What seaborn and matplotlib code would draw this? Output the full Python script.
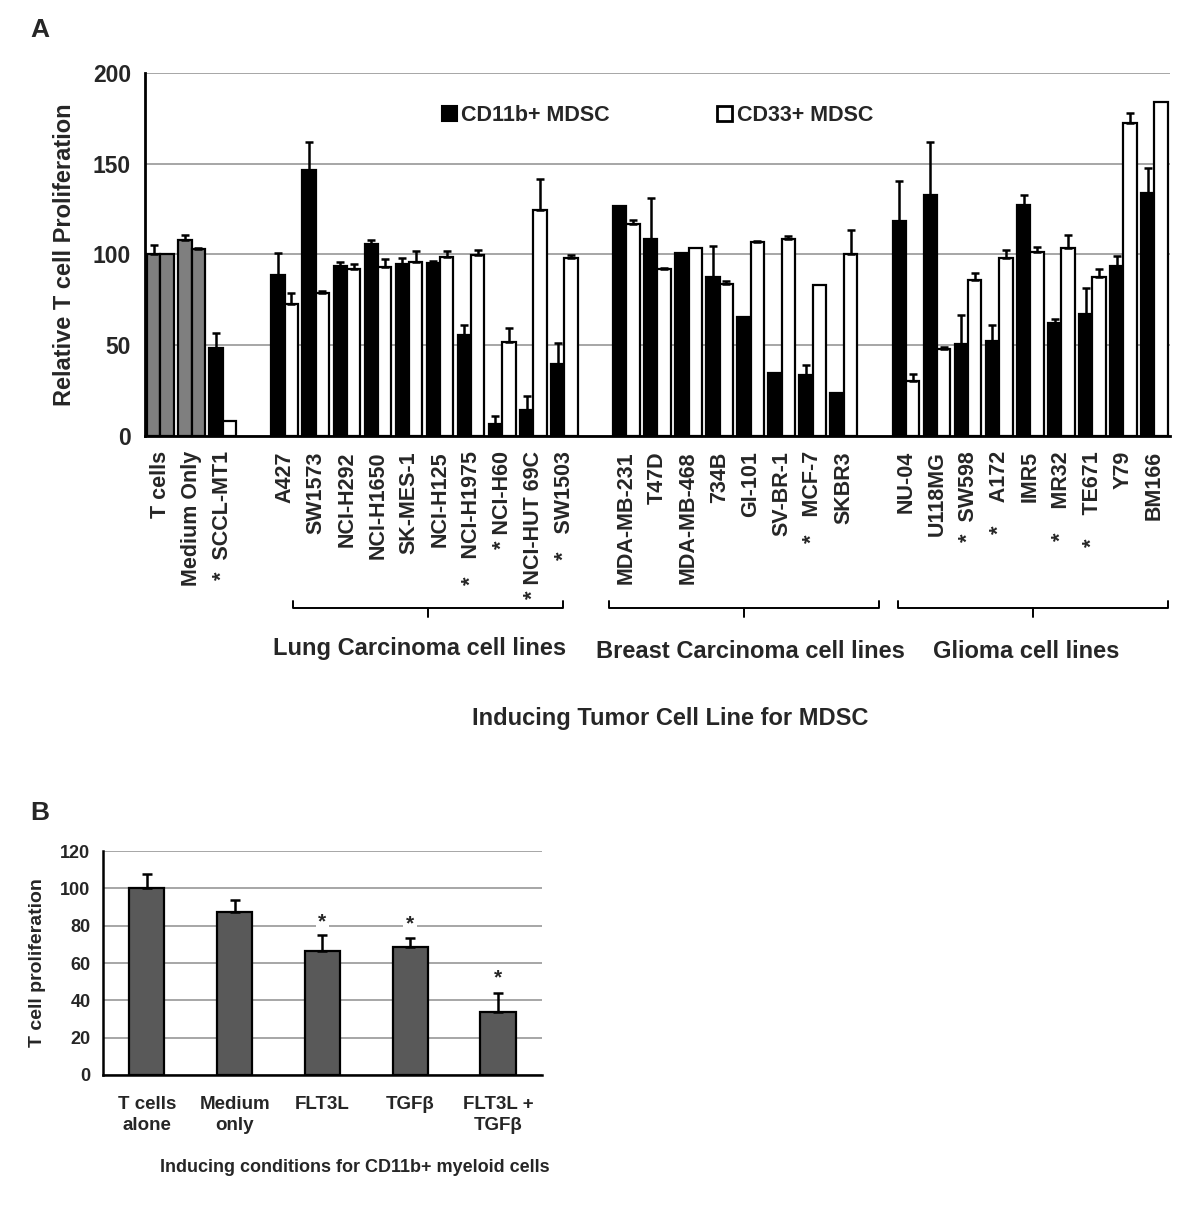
import numpy as np
import pandas as pd
import seaborn as sns
import matplotlib.pyplot as plt
from matplotlib.patches import Patch

sns.set_style('white')
plt.rcParams['font.family'] = ['Liberation Sans', 'DejaVu Sans']
plt.rcParams['font.weight'] = 'bold'

# ---------------- Panel A data ----------------
cell_lines = ['T cells', 'Medium Only', 'SCCL-MT1',
              'A427', 'SW1573', 'NCI-H292', 'NCI-H1650', 'SK-MES-1', 'NCI-H125',
              'NCI-H1975', 'NCI-H60', 'NCI-HUT 69C', 'SW1503',
              'MDA-MB-231', 'T47D', 'MDA-MB-468', '734B', 'GI-101', 'SV-BR-1',
              'MCF-7', 'SKBR3',
              'NU-04', 'U118MG', 'SW598', 'A172', 'IMR5', 'MR32', 'TE671', 'Y79', 'BM166']
cd11b = [100, 108, 48.6,
         88.7, 146.6, 93.7, 106, 94.6, 95.2, 55.8, 6.8, 14.2, 39.4,
         126.6, 108.5, 101, 87.8, 65.6, 34.8, 33.6, 23.7,
         118.7, 133, 50.5, 52.1, 127, 62.1, 67.1, 93.9, 133.8]
cd11b_err = [5, 2.5, 8.4,
             12.3, 15.1, 1.9, 2, 3.7, 1.3, 5.2, 4.2, 8, 11.8,
             np.nan, 22.7, np.nan, 16.6, np.nan, np.nan, 5.6, np.nan,
             22, 28.7, 16, 8.9, 5.7, 2.2, 14.2, 5.1, 14.1]
cd33 = [100, 103, 8.3,
        72.5, 79, 92, 93.3, 96, 98.5, 99.8, 51.8, 124.4, 98,
        116.8, 92, 103.7, 83.5, 106.7, 108.5, 83, 100.4,
        30.5, 47.9, 85.8, 98, 101.5, 103.3, 87.8, 172.3, 183.9]
cd33_err = [np.nan, 0.5, np.nan,
            6.5, 1, 2.8, 4.1, 5.8, 3.5, 2.8, 7.9, 17, 1.7,
            2.1, 0.8, np.nan, 2.1, 0.5, 1.5, np.nan, 13.3,
            3.7, 1.1, 4.2, 4.6, 2.8, 7.6, 4.2, 5.5, np.nan]
# significance stars shown under the tick label (number of spaces before name)
starred = {'SCCL-MT1': 2, 'NCI-H1975': 3, 'NCI-H60': 1, 'NCI-HUT 69C': 1,
           'SW1503': 3, 'MCF-7': 3, 'SW598': 2, 'A172': 4, 'MR32': 4, 'TE671': 4}

series = ['CD11b+ MDSC', 'CD33+ MDSC']
order_a = (cell_lines[:3] + ['_gap1'] + cell_lines[3:13] + ['_gap2']
           + cell_lines[13:21] + ['_gap3'] + cell_lines[21:])

groups = ['Lung Carcinoma cell lines', 'Breast Carcinoma cell lines', 'Glioma cell lines']

# ---------------- Panel B data ----------------
conditions = ['T cells\nalone', 'Medium\nonly', 'FLT3L', 'TGF\u03b2', 'FLT3L +\nTGF\u03b2']
prolif = [100, 87.5, 66.3, 68.8, 33.9]
prolif_err = [7.5, 6.3, 8.7, 4.5, 10.1]
star_b = {'FLT3L': 82, 'TGF\u03b2': 81, 'FLT3L +\nTGF\u03b2': 52}

df_a = pd.DataFrame({'line': cell_lines * 2,
                     'series': [series[0]] * len(cell_lines) + [series[1]] * len(cell_lines),
                     'value': cd11b + cd33})
err_map = {(n, series[0]): e for n, e in zip(cell_lines, cd11b_err)}
err_map.update({(n, series[1]): e for n, e in zip(cell_lines, cd33_err)})

fig = plt.figure(figsize=(12, 12.08), dpi=100)

# ================= Panel A =================
ax = fig.add_axes([0.1208, 0.6391, 0.8542, 0.3005])
sns.barplot(data=df_a, x='line', y='value', hue='series', order=order_a,
            hue_order=series, palette=['black', 'white'], saturation=1,
            edgecolor='black', linewidth=1.6, width=0.86, errorbar=None,
            legend=False, ax=ax)

xs, tops, errs = [], [], []
for p in ax.patches:
    cx = p.get_x() + p.get_width() / 2
    idx = int(round(cx))
    s = series[0] if cx < idx else series[1]
    name = order_a[idx]
    if idx in (0, 1):
        p.set_facecolor('#7f7f7f')
    e = err_map.get((name, s), np.nan)
    if not np.isnan(e):
        xs.append(cx)
        tops.append(p.get_height())
        errs.append(e)
ax.errorbar(xs, tops, yerr=[np.zeros(len(errs)), errs], fmt='none', ecolor='black',
            elinewidth=1.8, capsize=3, capthick=1.8, zorder=3)

ax.set_ylim(0, 200)
ax.set_xlim(-0.5, len(order_a) - 0.5)
ax.set_yticks([0, 50, 100, 150, 200])
ax.yaxis.grid(True, color='#a6a6a6', lw=1.4)
ax.set_axisbelow(True)
ticklabels = []
for n in order_a:
    if n.startswith('_gap'):
        ticklabels.append('')
    elif n in starred:
        ticklabels.append('*' + ' ' * starred[n] + n)
    else:
        ticklabels.append(n)
ax.set_xticks(range(len(order_a)))
ax.set_xticklabels(ticklabels, rotation=90, fontsize=15.5, fontweight='bold')
ax.set_xticks(np.arange(-0.5, len(order_a), 1), minor=True)
ax.tick_params(axis='x', which='major', length=0, pad=11)
ax.tick_params(axis='x', which='minor', length=6, width=1.6, direction='out', color='black')
ax.tick_params(axis='y', length=6, width=1.6, direction='out', color='black',
               labelsize=16.5, pad=4)
for t in ax.get_yticklabels():
    t.set_fontweight('bold')
ax.set_xlabel('')
ax.set_ylabel('Relative T cell Proliferation', fontsize=17, fontweight='bold', labelpad=12)
for sp in ['top', 'right']:
    ax.spines[sp].set_visible(False)
for sp in ['left', 'bottom']:
    ax.spines[sp].set_color('black')
    ax.spines[sp].set_linewidth(2)

handles = [Patch(facecolor='black', edgecolor='black', lw=1.5),
           Patch(facecolor='white', edgecolor='black', lw=2)]
ax.legend(handles, series, loc='center', bbox_to_anchor=(0.5, 0.882), ncol=2,
          frameon=False, handlelength=0.7, handleheight=0.7,
          handletextpad=0.2, columnspacing=5.0, prop={'weight': 'bold', 'size': 15.5})

# group brackets under the tick labels
trans = ax.get_xaxis_transform()
brackets = [(4.26, 12.96), (14.44, 23.12), (23.73, 32.44)]
for x0, x1 in brackets:
    xm = (x0 + x1) / 2
    ax.plot([x0, x0, x1, x1], [-0.456, -0.474, -0.474, -0.456], color='black',
            lw=1.4, transform=trans, clip_on=False)
    ax.plot([xm, xm], [-0.474, -0.498], color='black', lw=1.4, transform=trans,
            clip_on=False)

group_pos = [(420, 648), (750, 651), (1026, 652)]
for g, (px, py) in zip(groups, group_pos):
    fig.text(px / 1200, 1 - py / 1208, g, ha='center', va='center', fontsize=17,
             fontweight='bold')
fig.text(670 / 1200, 1 - 718 / 1208, 'Inducing Tumor Cell Line for MDSC', ha='center',
         va='center', fontsize=17, fontweight='bold')
fig.text(40 / 1200, 1 - 30 / 1208, 'A', ha='center', va='center', fontsize=19,
         fontweight='bold')

# ================= Panel B =================
axb = fig.add_axes([0.0858, 0.1101, 0.3658, 0.1854])
sns.barplot(x=conditions, y=prolif, color='#595959', saturation=1, edgecolor='black',
            linewidth=1.6, width=0.4, errorbar=None, ax=axb)
bx = [p.get_x() + p.get_width() / 2 for p in axb.patches]
bt = [p.get_height() for p in axb.patches]
axb.errorbar(bx, bt, yerr=[np.zeros(len(prolif_err)), prolif_err], fmt='none',
             ecolor='black', elinewidth=1.8, capsize=3.5, capthick=1.8, zorder=3)
for i, c in enumerate(conditions):
    if c in star_b:
        axb.text(i, star_b[c], '*', ha='center', va='center', fontsize=15,
                 fontweight='bold', zorder=4,
                 bbox=dict(facecolor='white', edgecolor='none', pad=2))
axb.set_ylim(0, 120)
axb.set_xlim(-0.5, len(conditions) - 0.5)
axb.set_yticks(range(0, 121, 20))
axb.yaxis.grid(True, color='#a6a6a6', lw=1.4)
axb.set_axisbelow(True)
axb.set_xticks(range(len(conditions)))
axb.set_xticklabels(conditions, fontsize=13.5, fontweight='bold', linespacing=1.35)
axb.set_xticks(np.arange(-0.5, len(conditions), 1), minor=True)
axb.tick_params(axis='x', which='major', length=0, pad=15)
axb.tick_params(axis='x', which='minor', length=5, width=1.4, direction='out', color='black')
axb.tick_params(axis='y', length=5, width=1.4, direction='out', color='black',
                labelsize=13, pad=4)
for t in axb.get_yticklabels():
    t.set_fontweight('bold')
axb.set_ylabel('T cell proliferation', fontsize=14, fontweight='bold', labelpad=10)
for sp in ['top', 'right']:
    axb.spines[sp].set_visible(False)
for sp in ['left', 'bottom']:
    axb.spines[sp].set_color('black')
    axb.spines[sp].set_linewidth(1.8)

fig.text(355 / 1200, 1 - 1167 / 1208, 'Inducing conditions for CD11b+ myeloid cells',
         ha='center', va='center', fontsize=13, fontweight='bold')
fig.text(40 / 1200, 1 - 813 / 1208, 'B', ha='center', va='center', fontsize=19,
         fontweight='bold')

fig.savefig('out.png', dpi=100, facecolor='white')
